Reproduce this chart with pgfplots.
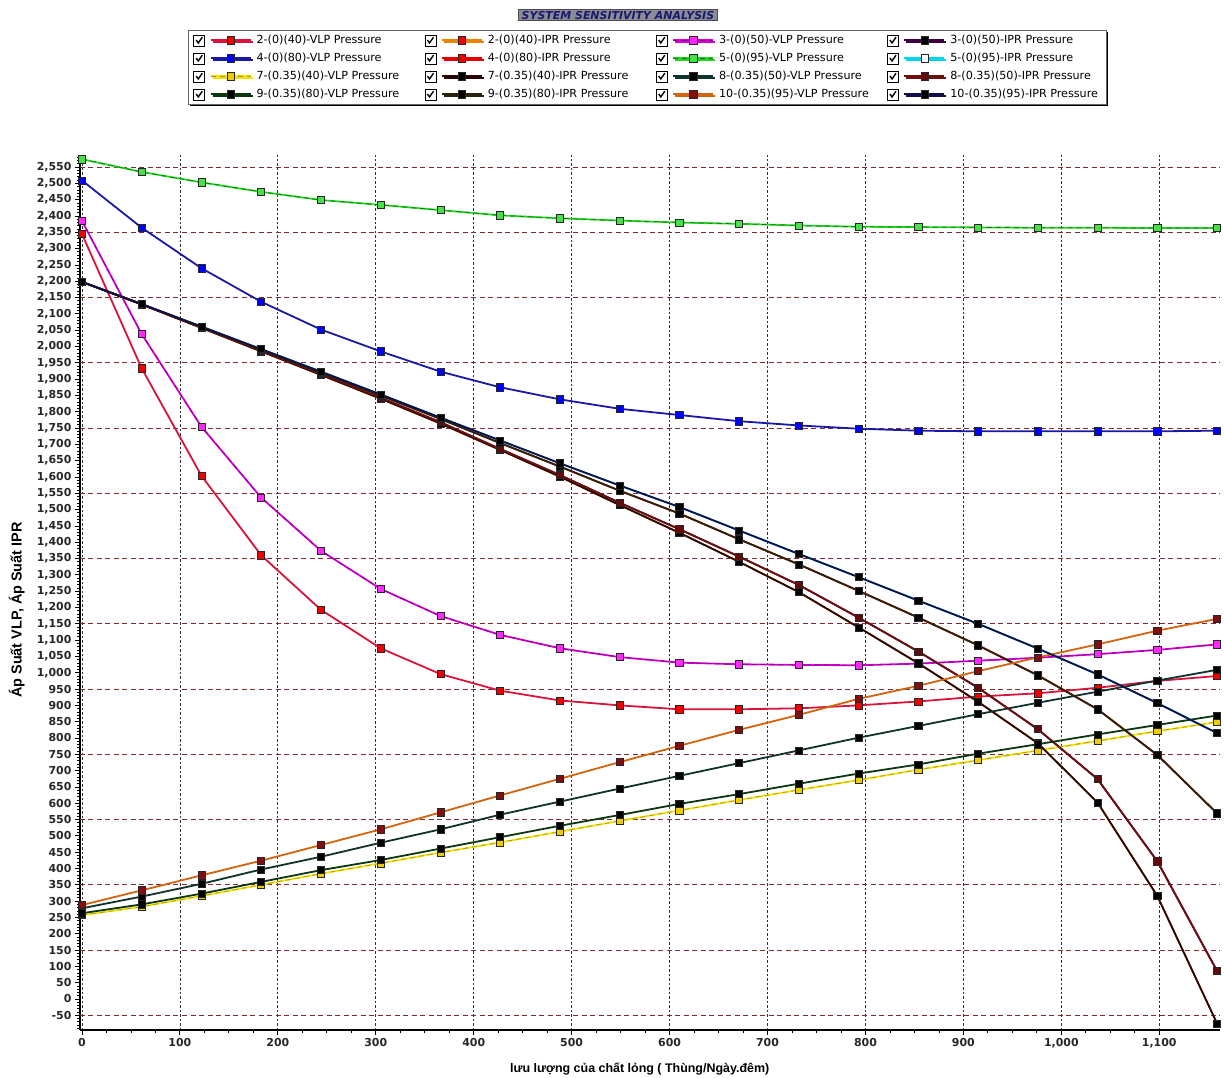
\documentclass[border=0pt]{standalone}
\usepackage{fontspec}
\setmainfont{DejaVu Sans}
\newfontfamily\arialfont{Liberation Sans}
\usepackage{pgfplots}
\usepackage{pgfplotstable}
\pgfplotsset{compat=1.18}
\usetikzlibrary{shadows}

\definecolor{c2v}{RGB}{215,20,60}
\definecolor{m2v}{RGB}{240,0,0}
\definecolor{c2i}{RGB}{235,130,0}
\definecolor{c3v}{RGB}{210,0,210}
\definecolor{d3v}{RGB}{130,0,140}
\definecolor{m3v}{RGB}{255,40,255}
\definecolor{c3i}{RGB}{60,0,60}
\definecolor{c4v}{RGB}{25,25,165}
\definecolor{m4v}{RGB}{0,0,255}
\definecolor{c4i}{RGB}{230,0,0}
\definecolor{c5v}{RGB}{30,215,30}
\definecolor{d5v}{RGB}{20,110,20}
\definecolor{m5v}{RGB}{70,225,70}
\definecolor{c5i}{RGB}{0,215,230}
\definecolor{c7v}{RGB}{245,225,0}
\definecolor{d7v}{RGB}{170,150,20}
\definecolor{m7v}{RGB}{235,205,0}
\definecolor{c7i}{RGB}{40,5,5}
\definecolor{c8v}{RGB}{15,50,45}
\definecolor{c8i}{RGB}{110,15,15}
\definecolor{m8i}{RGB}{100,10,10}
\definecolor{c9v}{RGB}{10,55,15}
\definecolor{c9i}{RGB}{40,35,10}
\definecolor{c10v}{RGB}{210,100,15}
\definecolor{m10v}{RGB}{130,15,15}
\definecolor{c10i}{RGB}{15,15,75}
\definecolor{gridred}{RGB}{130,40,50}
\definecolor{titlebg}{RGB}{140,140,150}
\definecolor{titletx}{RGB}{25,25,110}

\pgfplotstableread{
x v2 v3 v4 v5 v7 v8 v9 v10 iA iB iC iD
0 2345 2385 2509 2574 257 278 263 288 2198 2198 2198 2198
61 1933 2038 2364 2535 283 314 290 333 2130 2130 2129 2129
122 1604 1754 2240 2503 316 353 323 379 2061 2060 2058 2057
183 1360 1537 2137 2474 350 397 359 424 1992 1990 1987 1985
244 1193 1374 2052 2449 384 436 395 472 1923 1920 1916 1913
305 1075 1257 1985 2434 416 479 426 520 1853 1850 1843 1840
366 996 1174 1923 2418 449 520 461 572 1782 1778 1768 1764
427 945 1116 1875 2402 480 565 496 624 1712 1704 1686 1683
488 915 1075 1838 2393 513 605 531 675 1642 1632 1606 1601
549 900 1048 1809 2386 546 645 564 726 1574 1558 1521 1514
610 888 1031 1790 2380 578 684 598 776 1508 1488 1440 1429
671 888 1026 1771 2376 610 723 628 825 1436 1409 1356 1340
732 891 1024 1758 2371 641 762 660 871 1364 1332 1269 1247
793 900 1023 1748 2367 671 801 691 920 1293 1251 1169 1139
854 912 1028 1742 2366 703 837 719 960 1221 1169 1065 1029
915 927 1037 1740 2365 732 873 752 1005 1150 1084 954 911
976 937 1046 1740 2364 762 908 781 1047 1074 992 827 784
1037 954 1057 1740 2364 791 942 811 1087 995 888 674 602
1098 975 1070 1740 2363 821 976 840 1129 907 748 422 316
1159 990 1087 1742 2363 849 1009 869 1165 815 569 86 -75
}\data

\newcommand{\lc}[1]{\hspace*{2bp}\makebox[165bp][l]{#1}}
\newcommand{\lf}[1]{\hspace*{2bp}#1}

\pgfplotsset{
  ser/.style n args={2}{color=#1, line width=1.8bp, mark=square*, mark size=3.6bp,
     mark options={fill=#2, draw=black!85, line width=0.6bp, solid}},
  dsh/.style={postaction={draw=#1, line width=0.7bp, dash pattern=on 5bp off 4bp}},
}

\begin{document}
\begin{tikzpicture}
\useasboundingbox (-80bp,-48bp) rectangle (1144bp,1030bp);
\begin{axis}[
  scale only axis, width=1140bp, height=875bp,
  at={(0,0)}, anchor=south west,
  xmin=-2, xmax=1162, ymin=-95, ymax=2587,
  axis x line*=bottom, axis y line*=left,
  axis line style={-, line width=2.4bp, black},
  tick align=outside,
  xtick={0,100,...,1100}, minor x tick num=3,
  ytick distance=50, minor y tick num=4,
  major tick length=5bp, minor tick length=3bp,
  every tick/.style={black, line width=0.8bp},
  xmajorgrids=true,
  major grid style={dash pattern=on 2.5bp off 2bp, black!80, line width=0.7bp},
  extra y ticks={-50,150,...,2550},
  extra y tick labels={},
  extra y tick style={grid=major, major tick length=0bp,
     major grid style={dash pattern=on 5bp off 3.5bp, gridred, line width=0.9bp}},
  /pgf/number format/1000 sep={,},
  /pgf/number format/assume math mode=true,
  ticklabel style={font=\bfseries\fontsize{11}{13}\selectfont, text=black!85},
  xlabel={lưu lượng của chất lỏng ( Thùng/Ngày.đêm)},
  xlabel style={font=\arialfont\bfseries\fontsize{12.5}{14}\selectfont,
     at={(axis description cs:0.491,-0.0445)}, anchor=center},
  ylabel={Áp Suất VLP, Áp Suất IPR},
  ylabel style={font=\arialfont\bfseries\fontsize{14.5}{16}\selectfont,
     at={(axis description cs:-0.0555,0.48)}, anchor=center},
  title={SYSTEM SENSITIVITY ANALYSIS},
  title style={at={(axis description cs:0.4719,1.1531)}, anchor=center,
     fill=titlebg, draw=black!70, line width=0.8bp, text=titletx,
     font=\bfseries\itshape\fontsize{11}{12}\selectfont, inner xsep=3bp, inner ysep=1.5bp},
  legend columns=4,
  legend cell align=left,
  legend style={at={(axis description cs:0.0947,1.1429)}, anchor=north west,
     draw=black!60, line width=0.8bp, fill=white,
     font=\fontsize{11.2}{13}\selectfont,
     inner xsep=5bp, inner ysep=1bp,
     nodes={inner xsep=3bp, inner ysep=3bp, text height=9bp, text depth=3bp},
     drop shadow={shadow xshift=2bp, shadow yshift=-2bp, fill=black, opacity=1}},
  legend image code/.code={
     \begin{pgfscope}
       \pgfsetdash{}{0pt}
       \pgfsetlinewidth{0.7bp}
       \pgfsetstrokecolor{black}
       \pgfsetfillcolor{white}
       \pgfpathrectangle{\pgfpoint{0bp}{-5.5bp}}{\pgfpoint{11bp}{11bp}}
       \pgfusepath{fill,stroke}
       \pgfsetlinewidth{1.4bp}
       \pgfpathmoveto{\pgfpoint{2.5bp}{0.3bp}}
       \pgfpathlineto{\pgfpoint{4.6bp}{-2.6bp}}
       \pgfpathlineto{\pgfpoint{8.6bp}{3.2bp}}
       \pgfusepath{stroke}
     \end{pgfscope}
     \draw[mark repeat=2, mark phase=2] plot coordinates {(17bp,0bp) (37bp,0bp) (57bp,0bp)};
  },
]
\addplot[ser={c2v}{m2v}] table[x=x,y=v2]{\data};
\addlegendentry{\lc{2-(0)(40)-VLP Pressure}}
\addplot[ser={c2i}{m2v}] table[x=x,y=iD]{\data};
\addlegendentry{\lc{2-(0)(40)-IPR Pressure}}
\addplot[ser={c3v}{m3v}, dsh=d3v] table[x=x,y=v3]{\data};
\addlegendentry{\lc{3-(0)(50)-VLP Pressure}}
\addplot[ser={c3i}{black}] table[x=x,y=iC]{\data};
\addlegendentry{\lf{3-(0)(50)-IPR Pressure}}
\addplot[ser={c4v}{m4v}] table[x=x,y=v4]{\data};
\addlegendentry{\lc{4-(0)(80)-VLP Pressure}}
\addplot[ser={c4i}{m2v}] table[x=x,y=iB]{\data};
\addlegendentry{\lc{4-(0)(80)-IPR Pressure}}
\addplot[ser={c5v}{m5v}, dsh=d5v] table[x=x,y=v5]{\data};
\addlegendentry{\lc{5-(0)(95)-VLP Pressure}}
\addplot[ser={c5i}{white}] table[x=x,y=iA]{\data};
\addlegendentry{\lf{5-(0)(95)-IPR Pressure}}
\addplot[ser={c7v}{m7v}, dsh=d7v] table[x=x,y=v7]{\data};
\addlegendentry{\lc{7-(0.35)(40)-VLP Pressure}}
\addplot[ser={c7i}{black}] table[x=x,y=iD]{\data};
\addlegendentry{\lc{7-(0.35)(40)-IPR Pressure}}
\addplot[ser={c8v}{black}] table[x=x,y=v8]{\data};
\addlegendentry{\lc{8-(0.35)(50)-VLP Pressure}}
\addplot[ser={c8i}{m8i}] table[x=x,y=iC]{\data};
\addlegendentry{\lf{8-(0.35)(50)-IPR Pressure}}
\addplot[ser={c9v}{black}] table[x=x,y=v9]{\data};
\addlegendentry{\lc{9-(0.35)(80)-VLP Pressure}}
\addplot[ser={c9i}{black}] table[x=x,y=iB]{\data};
\addlegendentry{\lc{9-(0.35)(80)-IPR Pressure}}
\addplot[ser={c10v}{m10v}] table[x=x,y=v10]{\data};
\addlegendentry{\lc{10-(0.35)(95)-VLP Pressure}}
\addplot[ser={c10i}{black}] table[x=x,y=iA]{\data};
\addlegendentry{\lf{10-(0.35)(95)-IPR Pressure}}
\end{axis}
\end{tikzpicture}
\end{document}
